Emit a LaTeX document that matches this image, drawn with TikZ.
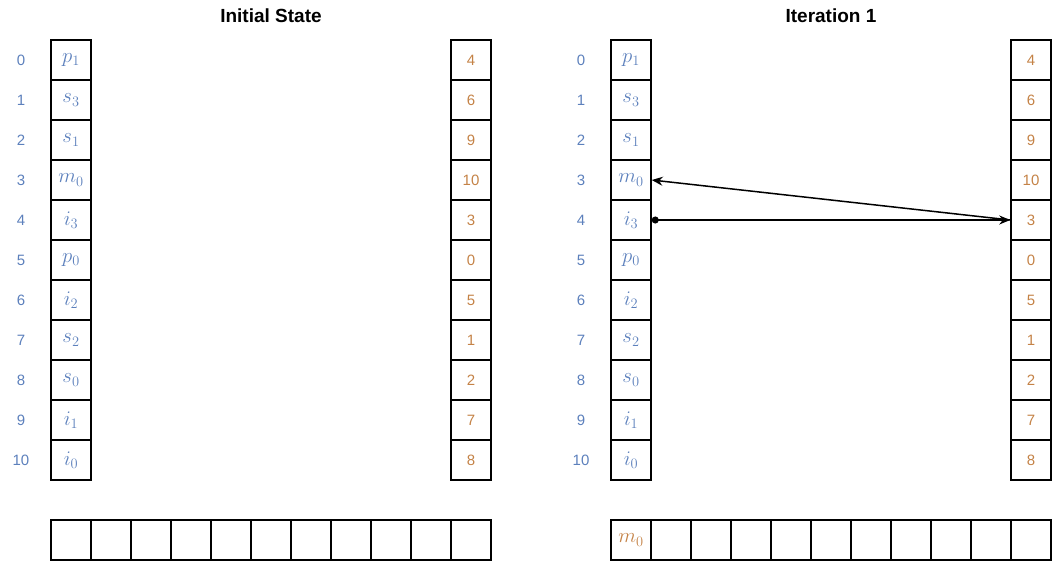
\documentclass[tikz,border=0pt]{standalone}
\usepackage{fontspec}
\setmainfont{Liberation Sans}
\usetikzlibrary{arrows.meta}
\definecolor{idxblue}{RGB}{92,128,188}
\definecolor{valorange}{RGB}{196,130,70}
\tikzset{
  cell/.style={draw=black, line width=1.5pt, minimum size=40pt, inner sep=0pt, anchor=center},
  idx/.style={text=idxblue, font=\fontsize{15}{18}\selectfont, inner sep=0pt},
  sym/.style={text=idxblue, font=\fontsize{20}{24}\selectfont},
  val/.style={text=valorange, font=\fontsize{15}{18}\selectfont},
  ttl/.style={font=\fontsize{19}{22}\selectfont\bfseries, inner sep=0pt},
  link/.style={line width=1.5pt, {Circle[length=7pt]}-{Stealth[length=11pt,width=9pt]}},
  back/.style={line width=1.5pt, -{Stealth[length=11pt,width=9pt]}}
}
\begin{document}
\begin{tikzpicture}[x=1pt,y=-1pt]
\useasboundingbox (0,0) rectangle (1052,562);
\def\syms{{"p_1","s_3","s_1","m_0","i_3","p_0","i_2","s_2","s_0","i_1","i_0"}}
\def\vals{{4,6,9,10,3,0,5,1,2,7,8}}
\foreach \p/\off in {a/0,b/560}{
  \foreach \i in {0,...,10}{
    \pgfmathsetmacro{\yy}{60+40*\i}
    \pgfmathparse{\syms[\i]}\let\s\pgfmathresult
    \pgfmathparse{\vals[\i]}\let\v\pgfmathresult
    \node[idx] (\p-n\i) at (21+\off,\yy) {\i};
    \node[cell, sym] (\p-L\i) at (71+\off,\yy) {$\s$};
    \node[cell, val] (\p-R\i) at (471+\off,\yy) {\v};
    \pgfmathsetmacro{\xx}{71+\off+40*\i}
    \node[cell] (\p-B\i) at (\xx,540) {};
  }
}
\node[ttl] (t1) at (271,16) {Initial State};
\node[ttl] (t2) at (831,16) {Iteration 1};
\node[val, font=\fontsize{20}{24}\selectfont] at (b-B0) {$m_0$};
\draw[link] (b-L4.east) -- (b-R4.west);
\draw[back] (b-R4.west) -- (b-L3.east);
\end{tikzpicture}
\end{document}
